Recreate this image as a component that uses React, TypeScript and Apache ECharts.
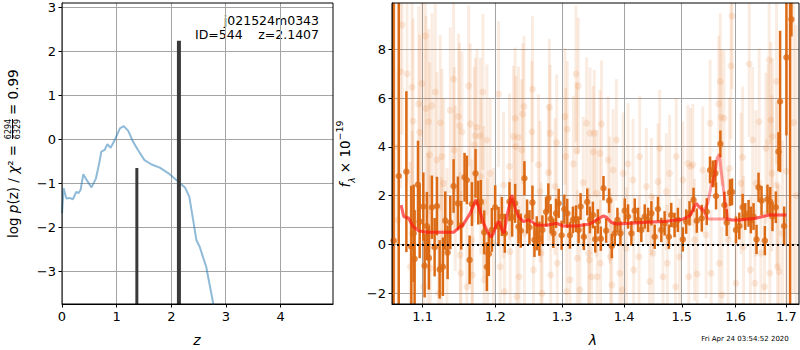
import React, { useEffect, useRef } from "react";
import * as echarts from "echarts";

// ---------- Left panel data ----------
const zGrid = [0, 0.03, 0.08, 0.14, 0.2, 0.26, 0.3, 0.34, 0.39, 0.45, 0.54, 0.62, 0.68, 0.72, 0.78, 0.83, 0.89, 0.97, 1.06, 1.13, 1.21, 1.3, 1.39, 1.51, 1.64, 1.79, 1.97, 2.13, 2.25, 2.33, 2.4, 2.46, 2.52, 2.64, 2.77, 2.85];
const logPz = [-1.68, -1.11, -1.34, -1.33, -1.36, -1.19, -1.22, -1.15, -0.79, -0.92, -1.09, -0.89, -0.55, -0.28, -0.24, -0.11, -0.19, 0.0, 0.25, 0.3, 0.2, -0.05, -0.24, -0.47, -0.57, -0.64, -0.79, -0.96, -1.09, -1.3, -1.83, -2.29, -2.44, -2.9, -3.74, -4.5];
const peakZ = [1.37, 2.14];
const peakTop = [-0.65, 2.24];
const leftXTicks = [0, 1, 2, 3, 4];
const leftYTicks = [-3, -2, -1, 0, 1, 2, 3];

// ---------- Right panel data ----------
const rightXTicks = [1.1, 1.2, 1.3, 1.4, 1.5, 1.6, 1.7];
const rightYTicks = [-2, 0, 2, 4, 6, 8];

// [lambda, flux, error]
const darkPoints = [
  [1.0625, 0.15, 15], [1.069, 2.8, 12], [1.0788, 2.98, 3.3], [1.0852, -0.1, 2.5], [1.0882, 0.45, 2.0], [1.0895, -0.6, 2.0], [1.0939, 2.45, 1.8], [1.0961, 0.93, 1.5], [1.1009, 1.55, 1.4], [1.1026, -0.88, 1.3],
  [1.1056, 0.75, 1.4], [1.1083, -0.56, 1.3], [1.1123, 1.52, 1.3], [1.1159, -0.12, 1.2], [1.119, 1.57, 1.2], [1.1226, -1.03, 1.2], [1.127, -0.92, 1.2], [1.1302, 0.97, 1.2], [1.1334, -0.33, 1.1], [1.137, 0.89, 1.1],
  [1.1415, 2.39, 1.1], [1.1474, 1.68, 1.1], [1.152, 0.78, 1.0], [1.1566, 2.75, 1.0], [1.1598, 2.64, 1.0], [1.1636, -0.64, 1.0], [1.1668, 1.65, 0.9], [1.1719, 2.91, 1.0], [1.1757, 1.71, 0.9], [1.1794, 1.74, 0.9],
  [1.1841, 0.49, 0.9], [1.1879, -0.92, 1.0], [1.1907, -0.4, 0.9], [1.195, 0.59, 0.9], [1.1998, 1.52, 0.9], [1.2046, 0.73, 0.8], [1.2094, 1.14, 0.8], [1.2137, 0.45, 0.8], [1.2205, 1.75, 0.8], [1.2244, 1.11, 0.8],
  [1.2288, 1.68, 0.8], [1.2337, 0.73, 0.7], [1.2371, 0.56, 0.7], [1.2425, 2.71, 0.7], [1.2465, 1.14, 0.7], [1.25, 0.7, 0.7], [1.2545, 1.71, 0.7], [1.2575, 0.18, 0.7], [1.261, 0.45, 0.7], [1.265, 0.23, 0.7],
  [1.2695, 0.59, 0.6], [1.2751, 1.33, 0.6], [1.2786, 1.9, 0.6], [1.2822, 1.05, 0.6], [1.2863, 0.45, 0.6], [1.2904, 1.27, 0.6], [1.2945, 1.68, 0.6], [1.2991, 0.37, 0.6], [1.3033, 1.44, 0.6], [1.3079, 1.27, 0.6],
  [1.3121, 0.37, 0.55], [1.3168, 1.0, 0.55], [1.3216, 1.05, 0.55], [1.3257, 0.59, 0.55], [1.3289, 1.55, 0.55], [1.3342, 0.31, 0.55], [1.3395, 1.74, 0.55], [1.3438, 1.0, 0.55], [1.3486, 1.2, 0.55], [1.3524, 0.21, 0.55],
  [1.3567, 0.94, 0.5], [1.3615, 0.23, 0.5], [1.3658, 2.3, 0.5], [1.3702, 0.56, 0.5], [1.3751, 1.79, 0.5], [1.3795, -0.07, 0.5], [1.3844, 0.45, 0.5], [1.3888, 1.0, 0.5], [1.3938, 0.45, 0.5], [1.401, 1.38, 0.5],
  [1.4066, 1.14, 0.5], [1.4122, 0.45, 0.5], [1.4179, 1.38, 0.5], [1.4235, 1.0, 0.5], [1.4291, 0.59, 0.5], [1.4349, 1.14, 0.5], [1.4406, 1.0, 0.5], [1.4464, 1.27, 0.5], [1.4521, 0.31, 0.5], [1.4579, 1.45, 0.5],
  [1.4637, 0.59, 0.5], [1.4695, 0.86, 0.5], [1.4771, 0.31, 0.5], [1.4812, 1.2, 0.5], [1.4871, 0.79, 0.5], [1.493, 1.0, 0.5], [1.5019, 0.2, 0.5], [1.5079, 0.93, 0.5], [1.5139, 1.27, 0.5], [1.5212, 1.82, 0.5],
  [1.5272, 0.97, 0.5], [1.5363, 1.07, 0.55], [1.5455, 1.34, 0.55], [1.5516, 3.05, 0.55], [1.5566, 2.89, 0.55], [1.5616, 2.91, 0.55], [1.5628, 1.98, 0.55], [1.5709, 4.12, 0.55], [1.5784, 1.61, 0.55], [1.5828, 0.89, 0.55],
  [1.5891, 2.12, 0.55], [1.5929, 2.15, 0.55], [1.6005, 0.59, 0.55], [1.6069, 0.75, 0.55], [1.6133, 1.52, 0.55], [1.6184, 1.14, 0.55], [1.6248, 1.27, 0.55], [1.6293, 1.0, 0.55], [1.6345, 1.14, 0.55], [1.6404, 0.2, 0.6],
  [1.6443, 2.34, 0.6], [1.6502, 1.79, 0.6], [1.6568, 0.15, 0.6], [1.662, 1.85, 0.6], [1.6674, 1.75, 0.6], [1.672, 1.14, 0.6], [1.6787, 1.52, 0.65], [1.684, 3.8, 0.8], [1.6873, 5.86, 2.9], [1.6954, 0.75, 0.8],
  [1.7001, 7.67, 3.2], [1.7103, 9.23, 0.7], [1.7076, 12, 16],
];

const faintPoints = [
  [1.0733, 9.0, 4.5], [1.1035, 8.55, 4.5], [1.0711, 7.09, 4.8], [1.0797, 7.0, 4.5], [1.0861, 6.44, 4.2], [1.0991, 6.6, 4.0], [1.1168, 6.25, 3.6], [1.1415, 6.77, 3.4], [1.1622, 6.5, 3.3], [1.1822, 6.25, 3.2],
  [1.0948, 5.76, 4.0], [1.1044, 5.57, 3.8], [1.1123, 5.68, 3.8], [1.137, 5.5, 3.4], [1.1483, 5.24, 3.4], [1.1738, 4.8, 3.2], [1.0874, 5.06, 4.2], [1.0961, 4.6, 4.0], [1.1079, 5.03, 3.8], [1.1234, 4.99, 3.6],
  [1.1529, 4.62, 3.3], [1.1497, 4.86, 3.4], [1.1645, 4.94, 3.3], [1.1715, 4.45, 3.2], [1.1785, 4.45, 3.2], [1.1879, 4.28, 3.1], [1.1092, 3.67, 3.8], [1.119, 3.46, 3.6], [1.1257, 3.6, 3.6], [1.1424, 3.87, 3.4],
  [1.1701, 4.08, 3.2], [1.1926, 2.91, 3.1], [1.1279, 2.5, 3.5], [1.1438, 2.3, 3.4], [1.1794, 2.78, 3.2], [1.1832, 1.75, 3.1], [1.0865, 0.45, 4.2], [1.107, -0.16, 3.9], [1.1325, -0.37, 3.5], [1.1506, -0.44, 3.4],
  [1.1668, 0.18, 3.3], [1.1888, -0.37, 3.1], [1.0839, -0.92, 4.3], [1.1101, -0.98, 3.8], [1.1248, -0.85, 3.6], [1.1515, -1.19, 3.4], [1.1677, -1.26, 3.3], [1.1841, -1.46, 3.1], [1.1013, -1.74, 3.9], [1.1212, -2.01, 3.6],
  [1.1598, -1.74, 3.3], [1.064, 4.0, 6.0], [1.068, 1.0, 6.0],
  [1.2046, 6.16, 3.0], [1.2545, 6.36, 3.0], [1.242, 5.65, 2.9], [1.2802, 5.62, 2.8], [1.3216, 6.99, 2.8], [1.3252, 6.5, 2.8], [1.2288, 5.17, 2.9], [1.24, 5.35, 2.9], [1.3043, 5.24, 2.8], [1.3079, 4.72, 2.8],
  [1.2263, 4.42, 2.9], [1.2337, 4.39, 2.9], [1.2535, 4.62, 2.9], [1.2812, 4.56, 2.8], [1.2914, 4.17, 2.8], [1.3384, 4.97, 2.7], [1.3438, 4.56, 2.7], [1.2298, 4.01, 2.9], [1.2385, 3.87, 2.9], [1.3054, 3.6, 2.8],
  [1.3226, 3.84, 2.8], [1.3491, 3.8, 2.7], [1.2205, 3.19, 3.0], [1.2635, 3.26, 2.9], [1.2786, 2.94, 2.8], [1.3174, 3.3, 2.8], [1.2118, 2.43, 3.0], [1.266, 2.16, 2.9], [1.2888, 2.37, 2.8], [1.3331, 2.53, 2.7],
  [1.1974, 0.04, 3.1], [1.2215, -0.3, 3.0], [1.2425, 0.45, 2.9], [1.2675, -0.37, 2.9], [1.2924, -0.78, 2.8], [1.3237, -0.57, 2.8], [1.3427, -0.64, 2.7], [1.207, -0.92, 3.0], [1.2346, -1.33, 2.9], [1.256, -1.05, 2.9],
  [1.2822, -1.26, 2.8], [1.3121, -1.46, 2.8], [1.3465, -1.33, 2.7], [1.2132, -1.94, 3.0], [1.2312, -2.15, 2.9], [1.269, -2.01, 2.9], [1.3069, -1.94, 2.8], [1.3278, -1.87, 2.8],
  [1.3626, 4.94, 2.6], [1.3508, 4.56, 2.6], [1.3599, 3.73, 2.6], [1.3735, 3.46, 2.6], [1.3871, 4.28, 2.5], [1.4066, 3.3, 2.5], [1.4263, 3.6, 2.5], [1.4608, 3.94, 2.4], [1.4901, 3.6, 2.4], [1.5109, 3.32, 2.4],
  [1.5157, 3.19, 2.4], [1.3817, 3.05, 2.5], [1.3982, 2.91, 2.5], [1.415, 2.64, 2.5], [1.4377, 2.37, 2.4], [1.4579, 2.57, 2.4], [1.4783, 2.91, 2.4], [1.5019, 2.64, 2.4], [1.3545, 2.09, 2.6], [1.3762, 1.82, 2.6],
  [1.4464, 1.96, 2.4], [1.4724, 2.16, 2.4], [1.3417, -0.37, 2.7], [1.361, -0.78, 2.6], [1.3773, -0.51, 2.6], [1.4038, -0.16, 2.5], [1.4252, -0.51, 2.5], [1.4492, -0.37, 2.4], [1.4742, -0.78, 2.4], [1.496, -0.51, 2.4],
  [1.3556, -1.33, 2.6], [1.3795, -1.67, 2.6], [1.3971, -1.87, 2.5], [1.4161, -1.05, 2.5], [1.4435, -1.53, 2.4], [1.4666, -1.33, 2.4], [1.4889, -1.74, 2.4], [1.5127, -1.33, 2.4], [1.3926, -1.19, 2.5],
  [1.5929, 9.37, 3.0], [1.6653, 7.56, 3.2], [1.6261, 7.4, 3.0], [1.591, 7.32, 3.0], [1.5709, 6.68, 2.8], [1.5678, 5.76, 2.8], [1.5728, 5.21, 2.8], [1.5778, 5.17, 2.8], [1.5516, 4.97, 2.6], [1.6456, 5.03, 3.0],
  [1.6687, 5.1, 3.2], [1.68, 6.69, 3.4], [1.6326, 4.28, 3.0], [1.6633, 4.21, 3.2], [1.6588, 3.94, 3.1], [1.6133, 3.57, 2.9], [1.672, 4.42, 3.2], [1.52, 3.26, 2.5], [1.5381, 3.05, 2.6], [1.5878, 3.12, 2.9],
  [1.6101, 2.5, 2.9], [1.6391, 2.5, 3.0], [1.6707, 2.91, 3.2], [1.6807, 2.43, 3.4], [1.523, 0.18, 2.5], [1.5442, 0.38, 2.6], [1.569, -0.78, 2.8], [1.5853, 0.18, 2.9], [1.6152, -0.1, 2.9], [1.6489, -0.37, 3.0],
  [1.692, 0.45, 3.8], [1.5279, -1.22, 2.5], [1.5535, -1.19, 2.6], [1.6005, -1.6, 2.9], [1.6281, -1.05, 3.0], [1.6561, -1.74, 3.1], [1.682, -0.92, 3.4], [1.6853, -1.12, 3.5], [1.574, -2.08, 2.8], [1.6371, -1.6, 3.0],
  [1.6667, -1.19, 3.2], [1.7, 3.0, 6.0], [1.715, 5.0, 7.0], [1.72, 2.0, 7.0],
];

const modelLam = [1.072, 1.0754, 1.0818, 1.0874, 1.0948, 1.1056, 1.1234, 1.1415, 1.1483, 1.1552, 1.1645, 1.1692, 1.1724, 1.1762, 1.1832, 1.1902, 1.1941, 1.1974, 1.2022, 1.206, 1.2094, 1.2127, 1.2166, 1.2239, 1.2288, 1.2337, 1.241, 1.2485, 1.2535, 1.261, 1.2761, 1.2914, 1.3017, 1.3226, 1.3438, 1.3545, 1.3653, 1.3707, 1.3789, 1.3871, 1.4094, 1.4377, 1.4666, 1.4901, 1.5019, 1.5139, 1.52, 1.526, 1.5321, 1.5412, 1.5473, 1.5535, 1.5597, 1.5647, 1.569, 1.5722, 1.5784, 1.5847, 1.591, 1.6069, 1.6391, 1.6653, 1.7];
const modelA = [1.61, 1.14, 1.07, 0.73, 0.55, 0.49, 0.49, 0.49, 0.66, 0.83, 1.27, 1.61, 1.82, 1.55, 0.86, 0.45, 0.29, 0.45, 0.86, 0.93, 0.59, 0.45, 1.14, 2.02, 1.48, 1.14, 0.93, 1.0, 0.93, 0.79, 0.78, 0.86, 0.75, 0.75, 0.83, 1.0, 1.16, 1.11, 0.89, 0.83, 0.86, 0.9, 0.93, 1.0, 1.03, 1.16, 1.41, 1.68, 1.52, 1.41, 1.68, 2.37, 2.78, 3.53, 3.7, 3.05, 1.96, 1.07, 1.0, 1.0, 1.07, 1.2, 1.2];
const modelB = [1.61, 1.14, 1.07, 0.73, 0.55, 0.49, 0.49, 0.49, 0.66, 0.83, 1.27, 1.61, 1.82, 1.55, 0.86, 0.45, 0.29, 0.45, 0.86, 0.93, 0.59, 0.45, 1.14, 2.02, 1.48, 1.14, 0.93, 1.0, 0.93, 0.79, 0.78, 0.86, 0.75, 0.75, 0.83, 1.0, 1.16, 1.11, 0.89, 0.83, 0.86, 0.9, 0.93, 1.0, 1.03, 1.16, 1.41, 1.68, 1.52, 1.3, 1.05, 1.04, 1.04, 1.04, 1.04, 1.04, 1.04, 1.03, 1.0, 1.0, 1.07, 1.2, 1.2];

// ---------- styling constants ----------
const FONT = "DejaVu Sans";
const LEFT_X = [0, 4.96];
const LEFT_Y = [-3.74, 3.1];
const RIGHT_X = [1.0604, 1.7259];
const RIGHT_Y = [-2.45, 9.9];
const LEFT_BOX = { left: 62, top: 3, width: 271, height: 301 };
const RIGHT_BOX = { left: 392, top: 3, width: 407, height: 301 };
const PEAK_WIDTHS = [3, 4];
const ORANGE = "#dc6a14";
const FAINT = "rgba(225,110,25,0.13)";
const FAINT_DOT = "rgba(225,110,25,0.17)";
const GRID_COLOR = "#a4a4a4";

const fmt = (v: number) => {
  const r = Math.round(v * 100) / 100;
  return r < 0 ? "\u2212" + Math.abs(r) : String(r);
};

function axisCommon(ticks: number[], formatter: (v: number) => string) {
  return {
    type: "value" as const,
    axisLine: { show: true, onZero: false, lineStyle: { color: "#000", width: 1 } },
    axisTick: { show: true, inside: false, length: 3.5, customValues: ticks, lineStyle: { color: "#000", width: 1 } },
    axisLabel: { customValues: ticks, color: "#000", fontSize: 13, fontFamily: FONT, formatter, margin: 6 },
    splitLine: { show: false },
  };
}

function errorBarSeries(data: number[][], color: string, width: number, z: number) {
  return {
    type: "custom",
    xAxisIndex: 1,
    yAxisIndex: 1,
    z,
    silent: true,
    encode: { x: 0, y: 1 },
    data: data.map((d) => [Math.log(d[0]), d[1], d[2]]),
    renderItem: (params: any, api: any) => {
      const x = api.value(0);
      const y = api.value(1);
      const e = api.value(2);
      const lo = Math.max(y - e, RIGHT_Y[0]);
      const hi = Math.min(y + e, RIGHT_Y[1]);
      if (hi <= lo) return null;
      const p1 = api.coord([x, lo]);
      const p2 = api.coord([x, hi]);
      return {
        type: "line",
        shape: { x1: p1[0], y1: p1[1], x2: p2[0], y2: p2[1] },
        style: { stroke: color, lineWidth: width },
      };
    },
  };
}

const centered = { align: "center", verticalAlign: "middle", textAlign: "center", textVerticalAlign: "middle" };

export default function App() {
  const ref = useRef<HTMLDivElement>(null);
  useEffect(() => {
    const chart = echarts.init(ref.current!, null, { renderer: "svg" });
    const richMain = {
      n: { fontSize: 13.5, fontFamily: FONT, fill: "#000" },
      i: { fontSize: 13.5, fontFamily: FONT, fontStyle: "italic", fill: "#000" },
    };
    const rightXLog = rightXTicks.map((v) => Math.log(v));
    const rightXRange = [Math.log(RIGHT_X[0]), Math.log(RIGHT_X[1])];
    const baseGraphic: any[] = [
      { type: "rect", z: 10, shape: { x: LEFT_BOX.left, y: LEFT_BOX.top, width: LEFT_BOX.width, height: LEFT_BOX.height }, style: { fill: "none", stroke: "#000", lineWidth: 1 } },
      { type: "rect", z: 10, shape: { x: RIGHT_BOX.left, y: RIGHT_BOX.top, width: RIGHT_BOX.width, height: RIGHT_BOX.height }, style: { fill: "none", stroke: "#000", lineWidth: 1 } },
      { type: "text", x: 319, y: 20, style: { text: "j021524m0343", fontSize: 12.5, fontFamily: FONT, fill: "#000", align: "right", verticalAlign: "middle", textAlign: "right", textVerticalAlign: "middle" } },
      { type: "text", x: 195, y: 34, style: { text: "ID=544", fontSize: 12.5, fontFamily: FONT, fill: "#000", align: "left", verticalAlign: "middle", textAlign: "left", textVerticalAlign: "middle" } },
      { type: "text", x: 319, y: 34, style: { text: "z=2.1407", fontSize: 12.5, fontFamily: FONT, fill: "#000", align: "right", verticalAlign: "middle", textAlign: "right", textVerticalAlign: "middle" } },
      { type: "text", x: 197, y: 340, style: { text: "z", fontSize: 14, fontStyle: "italic", fontFamily: FONT, fill: "#000", ...centered } },
      { type: "text", x: 593, y: 340, style: { text: "λ", fontSize: 14, fontStyle: "italic", fontFamily: FONT, fill: "#000", ...centered } },
      { type: "text", x: 745, y: 339, style: { text: "Fri Apr 24 03:54:52 2020", fontSize: 7, fontFamily: FONT, fill: "#000", ...centered } },
      {
        type: "text",
        x: 345,
        y: 154,
        rotation: Math.PI / 2,
        style: {
          text: "{i|f}{sub|λ}{n| × 10}{sup|−19}",
          ...centered,
          rich: {
            i: { fontSize: 13.5, fontFamily: FONT, fontStyle: "italic", fill: "#000", lineHeight: 22 },
            n: { fontSize: 13.5, fontFamily: FONT, fill: "#000", lineHeight: 22 },
            sub: { fontSize: 9, fontFamily: FONT, fontStyle: "italic", fill: "#000", verticalAlign: "bottom", lineHeight: 12 },
            sup: { fontSize: 9.5, fontFamily: FONT, fill: "#000", verticalAlign: "top", lineHeight: 12 },
          },
        },
      },
      {
        type: "group",
        x: 13,
        y: 238,
        rotation: Math.PI / 2,
        children: [
          { type: "text", x: 0, y: 0, style: { text: "{n|log }{i|p}{n|(z) / }{i|χ}{n|² =}", rich: richMain, align: "left", verticalAlign: "middle", textAlign: "left", textVerticalAlign: "middle" } },
          { type: "text", x: 109, y: -5, style: { text: "6294", fontSize: 8, fontFamily: FONT, fill: "#000", ...centered } },
          { type: "rect", shape: { x: 99, y: -1, width: 20, height: 1 }, style: { fill: "#000" } },
          { type: "text", x: 109, y: 4, style: { text: "6329", fontSize: 8, fontFamily: FONT, fill: "#000", ...centered } },
          { type: "text", x: 123, y: 0, style: { text: "{n|= 0.99}", rich: richMain, align: "left", verticalAlign: "middle", textAlign: "left", textVerticalAlign: "middle" } },
        ],
      },
    ];
    const option: any = {
      animation: false,
      backgroundColor: "#fff",
      grid: [
        { ...LEFT_BOX, show: false },
        { ...RIGHT_BOX, show: false },
      ],
      xAxis: [
        { gridIndex: 0, min: LEFT_X[0], max: LEFT_X[1], ...axisCommon(leftXTicks, fmt) },
        { gridIndex: 1, min: rightXRange[0], max: rightXRange[1], ...axisCommon(rightXLog, (v: number) => Math.exp(v).toFixed(1)) },
      ],
      yAxis: [
        { gridIndex: 0, min: LEFT_Y[0], max: LEFT_Y[1], ...axisCommon(leftYTicks, fmt) },
        { gridIndex: 1, min: RIGHT_Y[0], max: RIGHT_Y[1], ...axisCommon(rightYTicks, fmt) },
      ],
      series: [
        {
          type: "line",
          xAxisIndex: 0,
          yAxisIndex: 0,
          data: zGrid.map((z, i) => [z, logPz[i]]),
          showSymbol: false,
          symbol: "none",
          lineStyle: { color: "rgba(31,119,180,0.5)", width: 2 },
          clip: true,
          z: 3,
        },
        {
          type: "custom",
          xAxisIndex: 0,
          yAxisIndex: 0,
          encode: { x: 0, y: 1 },
          z: 4,
          data: peakZ.map((z, i) => [z, peakTop[i], i]),
          renderItem: (params: any, api: any) => {
            const z = api.value(0);
            const top = api.value(1);
            const idx = api.value(2);
            const p1 = api.coord([z, LEFT_Y[0]]);
            const p2 = api.coord([z, top]);
            return {
              type: "line",
              shape: { x1: p1[0], y1: p1[1], x2: p2[0], y2: p2[1] },
              style: { stroke: "#3a3a3a", lineWidth: PEAK_WIDTHS[idx] },
            };
          },
        },
        errorBarSeries(faintPoints, FAINT, 3, 2),
        {
          type: "scatter",
          xAxisIndex: 1,
          yAxisIndex: 1,
          z: 2,
          symbolSize: 7,
          itemStyle: { color: FAINT_DOT },
          data: faintPoints.map((d) => [Math.log(d[0]), d[1]]),
          clip: true,
          silent: true,
        },
        errorBarSeries(darkPoints, ORANGE, 2.5, 3),
        {
          type: "scatter",
          xAxisIndex: 1,
          yAxisIndex: 1,
          z: 3,
          symbolSize: 6.5,
          itemStyle: { color: ORANGE },
          data: darkPoints.map((d) => [Math.log(d[0]), d[1]]),
          clip: true,
          silent: true,
        },
        {
          type: "line",
          xAxisIndex: 1,
          yAxisIndex: 1,
          z: 4,
          data: modelLam.map((l, i) => [Math.log(l), modelA[i]]),
          symbol: "none",
          lineStyle: { color: "rgba(255,20,20,0.42)", width: 3 },
        },
        {
          type: "line",
          xAxisIndex: 1,
          yAxisIndex: 1,
          z: 4,
          data: modelLam.map((l, i) => [Math.log(l), modelB[i]]),
          symbol: "none",
          lineStyle: { color: "rgba(255,20,20,0.42)", width: 3 },
          markLine: {
            silent: true,
            symbol: "none",
            label: { show: false },
            lineStyle: { color: "#000", width: 2, type: [2, 3] },
            data: [{ yAxis: 0 }],
          },
        },
      ],
      graphic: baseGraphic,
    };
    chart.setOption(option);

    // grid lines at tick values, positioned through the axes' scales; drawn as thin filled rects
    const gridRects: any[] = [];
    const addLines = (gridIndex: number, xTicks: number[], yTicks: number[], xr: number[], yr: number[]) => {
      const finder = { gridIndex } as any;
      xTicks.forEach((v) => {
        const p1 = chart.convertToPixel(finder, [v, yr[0]]) as number[];
        const p2 = chart.convertToPixel(finder, [v, yr[1]]) as number[];
        const x = Math.round(p1[0] - 0.5);
        gridRects.push({ type: "rect", z: 1, silent: true, shape: { x, y: Math.min(p1[1], p2[1]), width: 1, height: Math.abs(p1[1] - p2[1]) }, style: { fill: GRID_COLOR } });
      });
      yTicks.forEach((v) => {
        const p1 = chart.convertToPixel(finder, [xr[0], v]) as number[];
        const p2 = chart.convertToPixel(finder, [xr[1], v]) as number[];
        const y = Math.round(p1[1] - 0.5);
        gridRects.push({ type: "rect", z: 1, silent: true, shape: { x: p1[0], y, width: p2[0] - p1[0], height: 1 }, style: { fill: GRID_COLOR } });
      });
    };
    addLines(0, leftXTicks, leftYTicks, LEFT_X, LEFT_Y);
    addLines(1, rightXLog, rightYTicks, rightXRange, RIGHT_Y);
    chart.setOption({ graphic: [...baseGraphic, ...gridRects] });

    return () => chart.dispose();
  }, []);
  return <div ref={ref} style={{ position: "absolute", left: 0, top: 0, width: 800, height: 350 }} />;
}
